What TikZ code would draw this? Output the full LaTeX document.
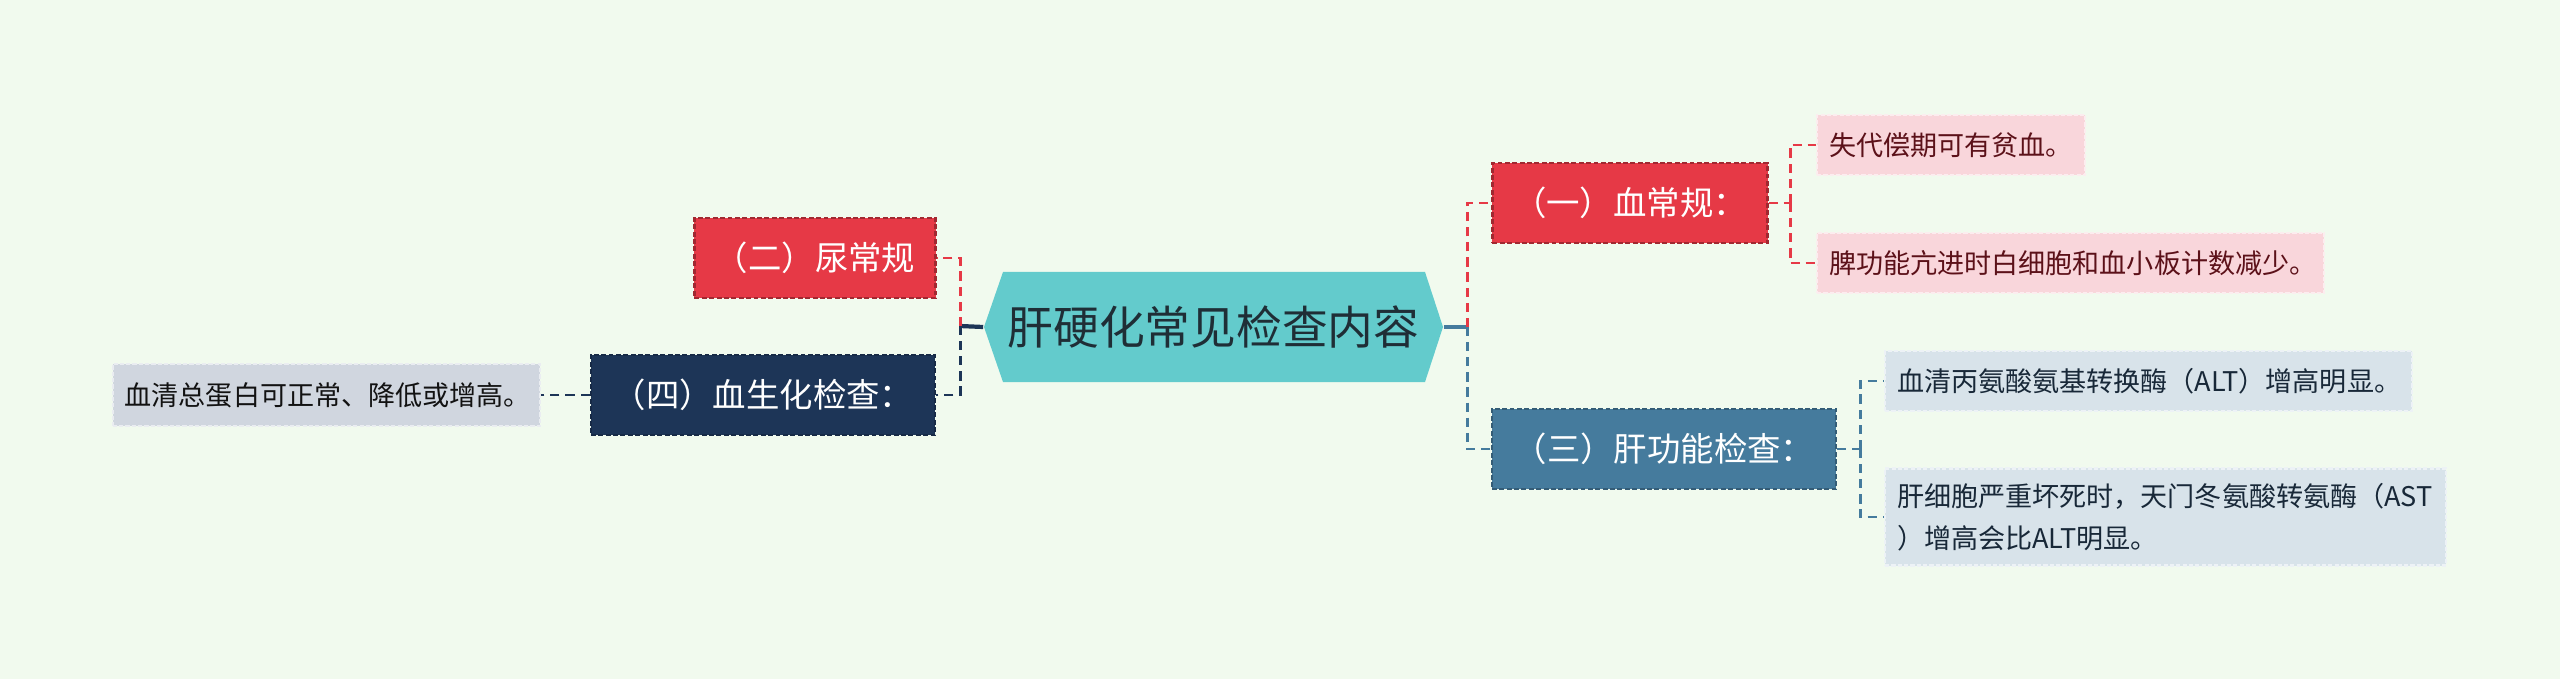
\documentclass[tikz,border=0pt]{standalone}
\usepackage{fontspec}
\setmainfont{Noto Sans CJK SC}

\definecolor{bgc}{HTML}{F1FAEE}
\definecolor{hubc}{HTML}{63CBCC}
\definecolor{hubtext}{HTML}{1F2E36}
\definecolor{redc}{HTML}{E63946}
\definecolor{bluec}{HTML}{457B9D}
\definecolor{navyc}{HTML}{1D3557}
\definecolor{redleaf}{HTML}{F9D6DB}
\definecolor{blueleaf}{HTML}{D8E3EA}
\definecolor{navyleaf}{HTML}{D0D6DF}
\definecolor{redtext}{HTML}{5C1119}
\definecolor{bluetext}{HTML}{182838}
\definecolor{navytext}{HTML}{121212}

\begin{document}
\begin{tikzpicture}[
		x=0.01cm, y=-0.01cm,
		hub/.style={inner sep=0pt, minimum width=4.59cm, minimum height=1.1cm,
			text=hubtext, font=\fontsize{13}{15}\selectfont},
		topic/.style={draw, line width=0.7pt, dash pattern=on 1.4pt off 0.7pt,
			inner sep=0pt, minimum height=0.8cm, text=white,
			font=\fontsize{9.5}{11}\selectfont},
		leaf/.style={draw, line width=0.6pt, dash pattern=on 1.2pt off 0.6pt,
			inner xsep=0.12cm, inner ysep=0pt, minimum height=0.6cm,
			align=left, anchor=west, font=\fontsize{7.7}{12}\selectfont},
		link/.style={line width=0.85pt, dash pattern=on 2.6pt off 1.7pt},
		stub/.style={line width=1.2pt}]
	%% background
	\fill[bgc] (0,0) rectangle (2560,679);
	\useasboundingbox (0,0) rectangle (2560,679);
	%% centre
	\fill[hubc] (984,327) -- (1003,272) -- (1425,272) -- (1443,327) -- (1425,382) -- (1003,382) -- cycle;
	\node[hub] (hub) at (1213.5,327) {肝硬化常见检查内容};
	%% main topics
	\node[topic, fill=redc, draw=redc!70!black, minimum width=2.75cm] (blood) at (1630,203) {（一）血常规：};
	\node[topic, fill=redc, draw=redc!70!black, minimum width=2.41cm] (urine) at (815,258) {（二）尿常规};
	\node[topic, fill=bluec, draw=bluec!75!black, minimum width=3.44cm] (liver) at (1664,449) {（三）肝功能检查：};
	\node[topic, fill=navyc, draw=navyc!80!black, minimum width=3.44cm] (chem) at (763,395) {（四）血生化检查：};
	%% details
	\node[leaf, fill=redleaf, draw=white!55!redleaf, text=redtext, text width=2.44cm] (anemia) at (1816,145) {失代偿期可有贫血。};
	\node[leaf, fill=redleaf, draw=white!55!redleaf, text=redtext, text width=4.83cm] (spleen) at (1816,263) {脾功能亢进时白细胞和血小板计数减少。};
	\node[leaf, fill=blueleaf, draw=white!55!blueleaf, text=bluetext, text width=5.03cm] (alt) at (1884,381) {血清丙氨酸氨基转换酶（ALT）增高明显。};
	\node[leaf, fill=blueleaf, draw=white!55!blueleaf, text=bluetext, text width=5.37cm, minimum height=0.97cm] (ast) at (1884,517) {肝细胞严重坏死时，天门冬氨酸转氨酶（AST\\）增高会比ALT明显。};
	\node[leaf, fill=navyleaf, draw=white!55!navyleaf, text=navytext, text width=4.03cm, minimum height=0.62cm, anchor=east] (protein) at (541,395) {血清总蛋白可正常、降低或增高。};
	%% junctions
	\coordinate (jr) at (1467,327);
	\coordinate (jl) at (960,326);
	\coordinate (jblood) at (1790,203);
	\coordinate (jliver) at (1860,449);
	%% right side
	\draw[stub, bluec] (hub.east) -- (jr);
	\draw[link, redc] (jr) |- (blood.west);
	\draw[link, bluec] (jr) |- (liver.west);
	\draw[link, redc] (blood.east) -- (jblood);
	\draw[link, redc] (jblood) |- (anemia.west);
	\draw[link, redc] (jblood) |- (spleen.west);
	\draw[link, bluec] (liver.east) -- (jliver);
	\draw[link, bluec] (jliver) |- (alt.west);
	\draw[link, bluec] (jliver) |- (ast.west);
	%% left side
	\draw[stub, navyc] (hub.west) -- (jl);
	\draw[link, redc] (jl) |- (urine.east);
	\draw[link, navyc] (jl) |- (chem.east);
	\draw[link, navyc] (chem.west) -- (protein.east);
\end{tikzpicture}
\end{document}
